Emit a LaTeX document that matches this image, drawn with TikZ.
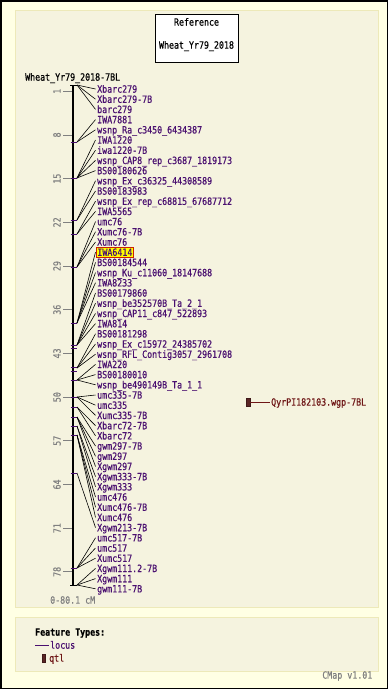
\documentclass[tikz,border=0pt]{standalone}
\usepackage{fontspec}
\newfontfamily\lab[FakeStretch=0.83,FakeBold=0.6]{DejaVu Sans Mono}
\definecolor{outerbg}{HTML}{FFFFE4}
\definecolor{panelbg}{HTML}{F5F3DF}
\definecolor{panelbd}{HTML}{EDE9B9}
\definecolor{labc}{HTML}{4A1070}
\definecolor{qtlc}{HTML}{6E1616}
\definecolor{qtlfill}{HTML}{5A2424}
\definecolor{scalec}{HTML}{808080}
\definecolor{hlfill}{HTML}{FFFF00}
\definecolor{hlbd}{HTML}{CC2200}
\begin{document}
\begin{tikzpicture}[x=1pt,y=-1pt,
  lbl/.style={font=\lab\fontsize{10}{10}\selectfont, text=labc, anchor=west,
    inner xsep=1.5pt, inner ysep=1.5pt, text height=7.3pt, text depth=0pt},
  plain/.style={lbl, text=black},
  graytxt/.style={lbl, text=scalec},
  conn/.style={black, line width=0.6pt},
  locustick/.style={labc, line width=1pt},
  scaletick/.style={scalec, line width=0.8pt},
  panel/.style={draw=panelbd, fill=panelbg, line width=1pt},
  qtlbox/.style={draw=qtlfill!70!black, fill=qtlfill, minimum width=4pt, minimum height=8pt, inner sep=0pt}]
\fill[outerbg] (0,0) rectangle (388,689);
\useasboundingbox (0,0) rectangle (388,689);
\draw[black, line width=1.5pt] (0.75,0.75) rectangle (387.25,688.25);
\draw[panel] (15,10) rectangle (378,607);
\draw[panel] (15,617) rectangle (378,671);
% reference box
\node[draw=black, fill=white, line width=0.8pt, minimum width=83pt, minimum height=48pt, anchor=north west, inner sep=0pt] (ref) at (155,14) {};
\node[plain, anchor=center] (reft) at (196.5,22) {Reference};
\node[plain, anchor=center] (refn) at (196.5,45) {Wheat\_Yr79\_2018};
\node[plain] (title) at (23.5,77) {Wheat\_Yr79\_2018-7BL};
% scale
\foreach \v in {1,8,15,22,29,36,43,50,57,64,71,78} {
  \draw[scaletick] (63,{85+\v*6.242}) -- (72,{85+\v*6.242});
  \node[graytxt, anchor=center, rotate=90] (s\v) at (57,{85+\v*6.242}) {\v};
}
\node[graytxt] (range) at (48.5,600) {0-80.1 cM};
% bar
\draw[black, line width=2.2pt] (73.3,85) -- (73.3,585);
\draw[black, line width=1pt] (70,85) -- (77,85);
\draw[black, line width=1pt] (70,585) -- (77,585);
\foreach \y in {142,178,220,234,267,323,345,348,367,371,380,397,407,417,426,435,473,568}
  \draw[locustick] (70.5,\y) -- (76.5,\y);
% markers
\foreach \n/\y in {A/85,B/142,C/178,D/220,E/234,F/267,G/323,H/345,I/368,J/380,K/397,L/407,M/417,N/426,O/435,P/473,Q/568,R/585}
  \coordinate (m\n) at (77,\y);
% labels
\foreach \i/\m/\t in {0/A/Xbarc279,1/A/Xbarc279-7B,2/A/barc279,3/B/IWA7881,4/B/wsnp\_Ra\_c3450\_6434387,
  5/C/IWA1220,6/C/iwa1220-7B,7/C/wsnp\_CAP8\_rep\_c3687\_1819173,8/C/BS00180626,
  9/D/wsnp\_Ex\_c36325\_44308589,10/D/BS00183983,11/E/wsnp\_Ex\_rep\_c68815\_67687712,12/E/IWA5565,
  13/F/umc76,14/F/Xumc76-7B,15/F/Xumc76,17/G/BS00184544,18/G/wsnp\_Ku\_c11060\_18147688,
  19/G/IWA8233,20/H/BS00179860,21/H/wsnp\_be352570B\_Ta\_2\_1,22/H/wsnp\_CAP11\_c847\_522893,
  23/H/IWA814,24/I/BS00181298,25/I/wsnp\_Ex\_c15972\_24385702,26/I/wsnp\_RFL\_Contig3057\_2961708,
  27/J/IWA220,28/J/BS00180010,29/J/wsnp\_be490149B\_Ta\_1\_1,30/K/umc335-7B,31/K/umc335,
  32/K/Xumc335-7B,33/L/Xbarc72-7B,34/L/Xbarc72,35/M/gwm297-7B,36/M/gwm297,37/M/Xgwm297,
  38/N/Xgwm333-7B,39/N/Xgwm333,40/O/umc476,41/O/Xumc476-7B,42/O/Xumc476,43/P/Xgwm213-7B,
  44/Q/umc517-7B,45/Q/umc517,46/Q/Xumc517,47/R/Xgwm111.2-7B,48/R/Xgwm111,49/R/gwm111-7B} {
  \node[lbl] (l\i) at (95.5,{89+\i*10.2}) {\t};
  \draw[conn] (m\m) -- (l\i.west);
}
\node[lbl, fill=hlfill, draw=hlbd, line width=0.8pt] (l16) at (95.5,{89+16*10.2}) {IWA6414};
\draw[conn] (mG) -- (l16.west);
% qtl
\node[qtlbox] (qtl) at (248,402) {};
\node[lbl, text=qtlc] (qtll) at (269.5,402) {QyrPI182103.wgp-7BL};
\draw[qtlc, line width=0.8pt] (qtl.east) -- (qtll.west);
% legend
\node[plain, font=\lab\bfseries\fontsize{10}{10}\selectfont] (ft) at (33.5,632) {Feature Types:};
\coordinate (lg1) at (35,645);
\node[lbl] (loc) at (48.5,645) {locus};
\draw[labc, line width=0.8pt] (lg1) -- (loc.west);
\node[qtlbox, minimum width=3pt] (lq) at (44,658) {};
\node[lbl, text=qtlc] (lqt) at (47.5,658) {qtl};
\node[graytxt, anchor=east] (cmap) at (374,675) {CMap v1.01};
\end{tikzpicture}
\end{document}
